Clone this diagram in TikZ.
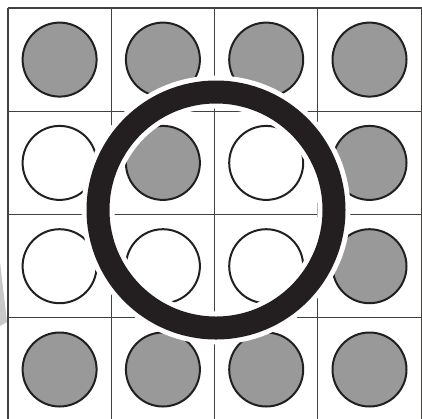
\documentclass[tikz,border=0pt]{standalone}
\usetikzlibrary{calc}
\definecolor{ink}{RGB}{35,31,32}
\definecolor{discgray}{RGB}{153,153,153}
\definecolor{shadegray}{RGB}{200,200,200}
\tikzset{
  gridline/.style={line width=1.1pt,color=ink!85},
  disc/.style={line width=2pt,draw=ink},
}

\begin{document}
\begin{tikzpicture}[x=1pt,y=-1pt]
\useasboundingbox (0,0) rectangle (422,418);
\clip (0,0) rectangle (422,418);

% light wedge at the left edge
\fill[shadegray] (0,262) -- (7,322) -- (0,326) -- cycle;

% grid
\foreach \i in {0,...,4}{
  \draw[gridline] ({8+103.3*\i},8) -- ({8+103.3*\i},430);
  \draw[gridline] (8,{8+103.3*\i}) -- (430,{8+103.3*\i});
}

% discs: column/row/fill
\foreach \col/\row/\shade in {0/0/discgray,1/0/discgray,2/0/discgray,3/0/discgray,
                              0/1/white,1/1/discgray,2/1/white,3/1/discgray,
                              0/2/white,1/2/white,2/2/white,3/2/discgray,
                              0/3/discgray,1/3/discgray,2/3/discgray,3/3/discgray}{
  \coordinate (c\col\row) at ({59.6+103.3*\col},{59.6+103.3*\row});
  \draw[disc,fill=\shade] (c\col\row) circle[radius=37];
}

% big ring with white halo
\coordinate (O) at (216,210);
\draw[white,line width=33pt] (O) circle[radius=118];
\draw[ink,line width=23pt] (O) circle[radius=118];

\end{tikzpicture}
\end{document}
